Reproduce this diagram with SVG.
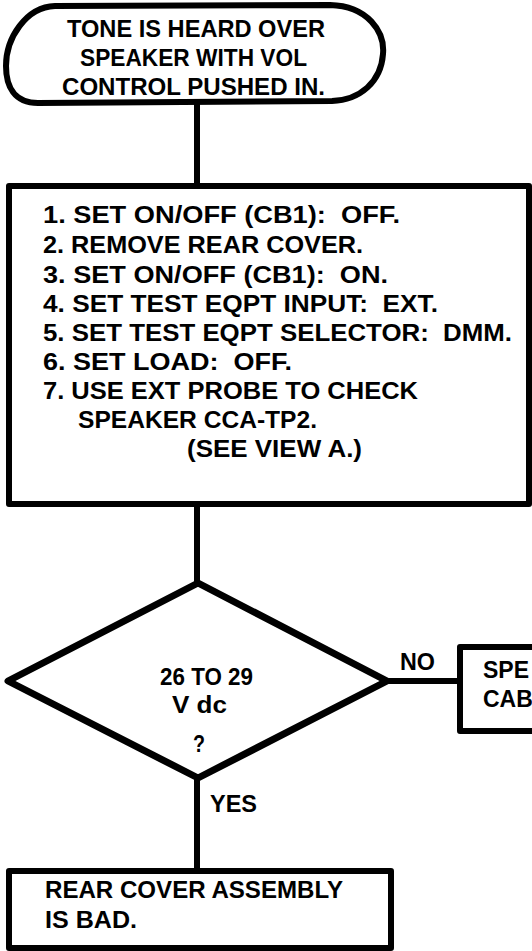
<svg xmlns="http://www.w3.org/2000/svg" width="532" height="951" viewBox="0 0 532 951" xml:space="preserve">
<style>
.shape{fill:#fff;stroke:#000;stroke-width:6;stroke-linejoin:round}
.conn{stroke:#000;stroke-width:6;fill:none}
text{font-family:"Liberation Sans",Arial,Helvetica,sans-serif;font-weight:bold;fill:#000;white-space:pre}
.t22{font-size:23px}
.t23{font-size:24px}
</style>
<rect width="532" height="951" fill="#fff"/>
<g id="connectors">
<line class="conn" x1="197" y1="103" x2="197" y2="186"/>
<line class="conn" x1="197" y1="504" x2="197" y2="583"/>
<line class="conn" x1="387" y1="681" x2="460" y2="681"/>
<line class="conn" x1="197" y1="778" x2="197" y2="871"/>
<text class="t22" x="400" y="670" textLength="35" lengthAdjust="spacingAndGlyphs">NO</text>
<text class="t22" x="210" y="812" textLength="47" lengthAdjust="spacingAndGlyphs">YES</text>
</g>
<g id="start">
<path class="shape" d="M55,6 L330,5 C368,6 385,32 383,54 C381,82 360,100 332,101 L38,103 C14,103 6,86 6,66 C6,38 26,7 55,6 Z"/>
<text class="t23" x="67" y="37" textLength="258" lengthAdjust="spacingAndGlyphs">TONE IS HEARD OVER</text>
<text class="t23" x="80" y="66" textLength="227" lengthAdjust="spacingAndGlyphs">SPEAKER WITH VOL</text>
<text class="t23" x="62" y="95" textLength="263" lengthAdjust="spacingAndGlyphs">CONTROL PUSHED IN.</text>
</g>
<g id="steps">
<rect class="shape" x="9" y="186" width="520" height="318"/>
<text class="t22" x="43" y="223" textLength="357" lengthAdjust="spacingAndGlyphs">1. SET ON/OFF (CB1):  OFF.</text>
<text class="t22" x="43" y="253" textLength="320" lengthAdjust="spacingAndGlyphs">2. REMOVE REAR COVER.</text>
<text class="t22" x="43" y="283" textLength="345" lengthAdjust="spacingAndGlyphs">3. SET ON/OFF (CB1):  ON.</text>
<text class="t22" x="43" y="312" textLength="395" lengthAdjust="spacingAndGlyphs">4. SET TEST EQPT INPUT:  EXT.</text>
<text class="t22" x="43" y="341" textLength="469" lengthAdjust="spacingAndGlyphs">5. SET TEST EQPT SELECTOR:  DMM.</text>
<text class="t22" x="43" y="370" textLength="249" lengthAdjust="spacingAndGlyphs">6. SET LOAD:  OFF.</text>
<text class="t22" x="43" y="399" textLength="375" lengthAdjust="spacingAndGlyphs">7. USE EXT PROBE TO CHECK</text>
<text class="t22" x="78" y="428" textLength="239" lengthAdjust="spacingAndGlyphs">SPEAKER CCA-TP2.</text>
<text class="t22" x="187" y="457" textLength="175" lengthAdjust="spacingAndGlyphs">(SEE VIEW A.)</text>
</g>
<g id="decision">
<path class="shape" d="M198,583 L387,681 L198,778 L8,681 Z" style="stroke-width:7"/>
<text class="t22" x="160" y="685" textLength="93" lengthAdjust="spacingAndGlyphs">26 TO 29</text>
<text class="t22" x="172" y="713" textLength="55" lengthAdjust="spacingAndGlyphs">V dc</text>
<text class="t22" x="193" y="752" textLength="12" lengthAdjust="spacingAndGlyphs">?</text>
</g>
<g id="no-result">
<rect class="shape" x="460" y="647" width="100" height="84"/>
<text class="t22" x="483" y="678">SPE</text>
<text class="t22" x="483" y="707">CAB</text>
</g>
<g id="yes-result">
<rect class="shape" x="9" y="871" width="382" height="77"/>
<text class="t22" x="45" y="898" textLength="298" lengthAdjust="spacingAndGlyphs">REAR COVER ASSEMBLY</text>
<text class="t22" x="45" y="928" textLength="92" lengthAdjust="spacingAndGlyphs">IS BAD.</text>
</g>
</svg>
